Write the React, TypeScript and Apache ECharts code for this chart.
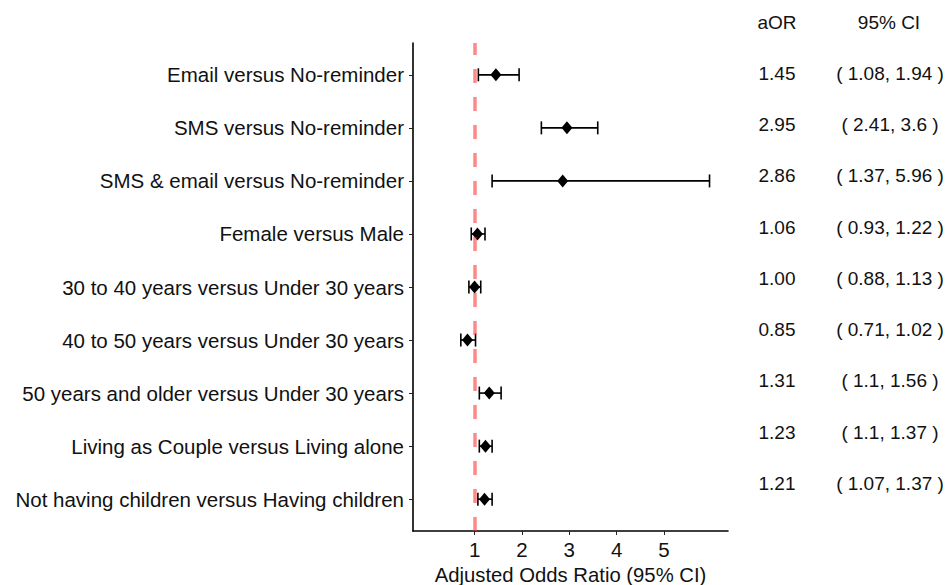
import React, { useEffect, useRef } from "react";
import * as echarts from "echarts";

const categories = [
  "Email versus No-reminder",
  "SMS versus No-reminder",
  "SMS & email versus No-reminder",
  "Female versus Male",
  "30 to 40 years versus Under 30 years",
  "40 to 50 years versus Under 30 years",
  "50 years and older versus Under 30 years",
  "Living as Couple versus Living alone",
  "Not having children versus Having children",
];
const aor = [1.45, 2.95, 2.86, 1.06, 1.0, 0.85, 1.31, 1.23, 1.21];
const lower = [1.08, 2.41, 1.37, 0.93, 0.88, 0.71, 1.1, 1.1, 1.07];
const upper = [1.94, 3.6, 5.96, 1.22, 1.13, 1.02, 1.56, 1.37, 1.37];
const aorLabels = ["1.45", "2.95", "2.86", "1.06", "1.00", "0.85", "1.31", "1.23", "1.21"];
const ciLabels = [
  "( 1.08, 1.94 )",
  "( 2.41, 3.6 )",
  "( 1.37, 5.96 )",
  "( 0.93, 1.22 )",
  "( 0.88, 1.13 )",
  "( 0.71, 1.02 )",
  "( 1.1, 1.56 )",
  "( 1.1, 1.37 )",
  "( 1.07, 1.37 )",
];
const xTicks = [1, 2, 3, 4, 5];
const tableHeaders = ["aOR", "95% CI"];
const referenceValue = 1;

const FONT = "Liberation Sans, Arial, Helvetica, sans-serif";

export default function App() {
  const ref = useRef<HTMLDivElement>(null);
  useEffect(() => {
    if (!ref.current) return;
    const chart = echarts.init(ref.current, null, { renderer: "svg" });
    const n = categories.length;
    const yPos = (i: number) => n - i; // top row = n
    const yTicks = categories.map((_, i) => yPos(i));

    const errData = categories.map((_, i) => [lower[i], upper[i], yPos(i)]);
    const ptData = categories.map((_, i) => [aor[i], yPos(i)]);

    const rowY0 = 22;
    const rowStep = 51.25;
    const graphics: any[] = [];
    const tStyle = (text: string) => ({
      text, font: `19px ${FONT}`, fill: "#111", textAlign: "center", textVerticalAlign: "middle",
    });
    graphics.push({ type: "text", x: 777, y: rowY0, style: tStyle(tableHeaders[0]) });
    graphics.push({ type: "text", x: 889, y: rowY0, style: tStyle(tableHeaders[1]) });
    categories.forEach((_, i) => {
      graphics.push({ type: "text", x: 777, y: rowY0 + rowStep * (i + 1), style: tStyle(aorLabels[i]) });
      graphics.push({ type: "text", x: 890, y: rowY0 + rowStep * (i + 1), style: tStyle(ciLabels[i]) });
    });

    chart.setOption({
      animation: false,
      textStyle: { fontFamily: FONT },
      grid: { left: 413, right: 221, top: 43, bottom: 54, containLabel: false, outerBoundsMode: "none" },
      xAxis: {
        type: "value",
        min: -0.3,
        max: 6.35,
        name: "Adjusted Odds Ratio (95% CI)",
        nameLocation: "middle",
        nameGap: 30,
        nameTextStyle: { fontSize: 20.3, color: "#111", fontFamily: FONT },
        axisLine: { show: true, onZero: false, lineStyle: { color: "#000", width: 1.6 } },
        axisTick: { show: true, length: 4, lineStyle: { color: "#222", width: 1 }, customValues: xTicks },
        axisLabel: { fontSize: 20.5, color: "#111", margin: 8, customValues: xTicks, fontFamily: FONT },
        splitLine: { show: false },
      },
      yAxis: {
        type: "value",
        min: 0.4,
        max: 9.6,
        axisLine: { show: true, onZero: false, lineStyle: { color: "#000", width: 1.6 } },
        axisTick: { show: true, length: 4, lineStyle: { color: "#222", width: 1 }, customValues: yTicks },
        axisLabel: {
          fontSize: 20.5,
          color: "#111",
          margin: 9,
          fontFamily: FONT,
          customValues: yTicks,
          formatter: (v: number) => categories[n - Math.round(v)] ?? "",
        },
        splitLine: { show: false },
      },
      graphic: graphics,
      series: [
        {
          type: "custom",
          data: errData,
          z: 2,
          renderItem: (params: any, api: any) => {
            const lo = api.value(0);
            const hi = api.value(1);
            const y = api.value(2);
            const p1 = api.coord([lo, y]);
            const p2 = api.coord([hi, y]);
            const cap = 6.5;
            const style = { stroke: "#000", lineWidth: 1.6 };
            return {
              type: "group",
              children: [
                { type: "line", shape: { x1: p1[0], y1: p1[1], x2: p2[0], y2: p2[1] }, style },
                { type: "line", shape: { x1: p1[0], y1: p1[1] - cap, x2: p1[0], y2: p1[1] + cap }, style },
                { type: "line", shape: { x1: p2[0], y1: p2[1] - cap, x2: p2[0], y2: p2[1] + cap }, style },
              ],
            };
          },
        },
        {
          type: "scatter",
          data: ptData,
          symbol: "diamond",
          symbolSize: [11, 13],
          itemStyle: { color: "#000", opacity: 1 },
          z: 3,
          markLine: {
            silent: true,
            symbol: "none",
            label: { show: false },
            lineStyle: { color: "rgba(255,40,40,0.55)", width: 3.5, type: [14, 14] },
            data: [[{ coord: [referenceValue, 0.4] }, { coord: [referenceValue, 9.6] }]],
            z: 5,
          },
        },
      ],
    });
    return () => chart.dispose();
  }, []);
  return (
    <div style={{ position: "absolute", left: 0, top: 0 }}>
      <div ref={ref} style={{ width: 949, height: 585, background: "#fff" }} />
    </div>
  );
}
